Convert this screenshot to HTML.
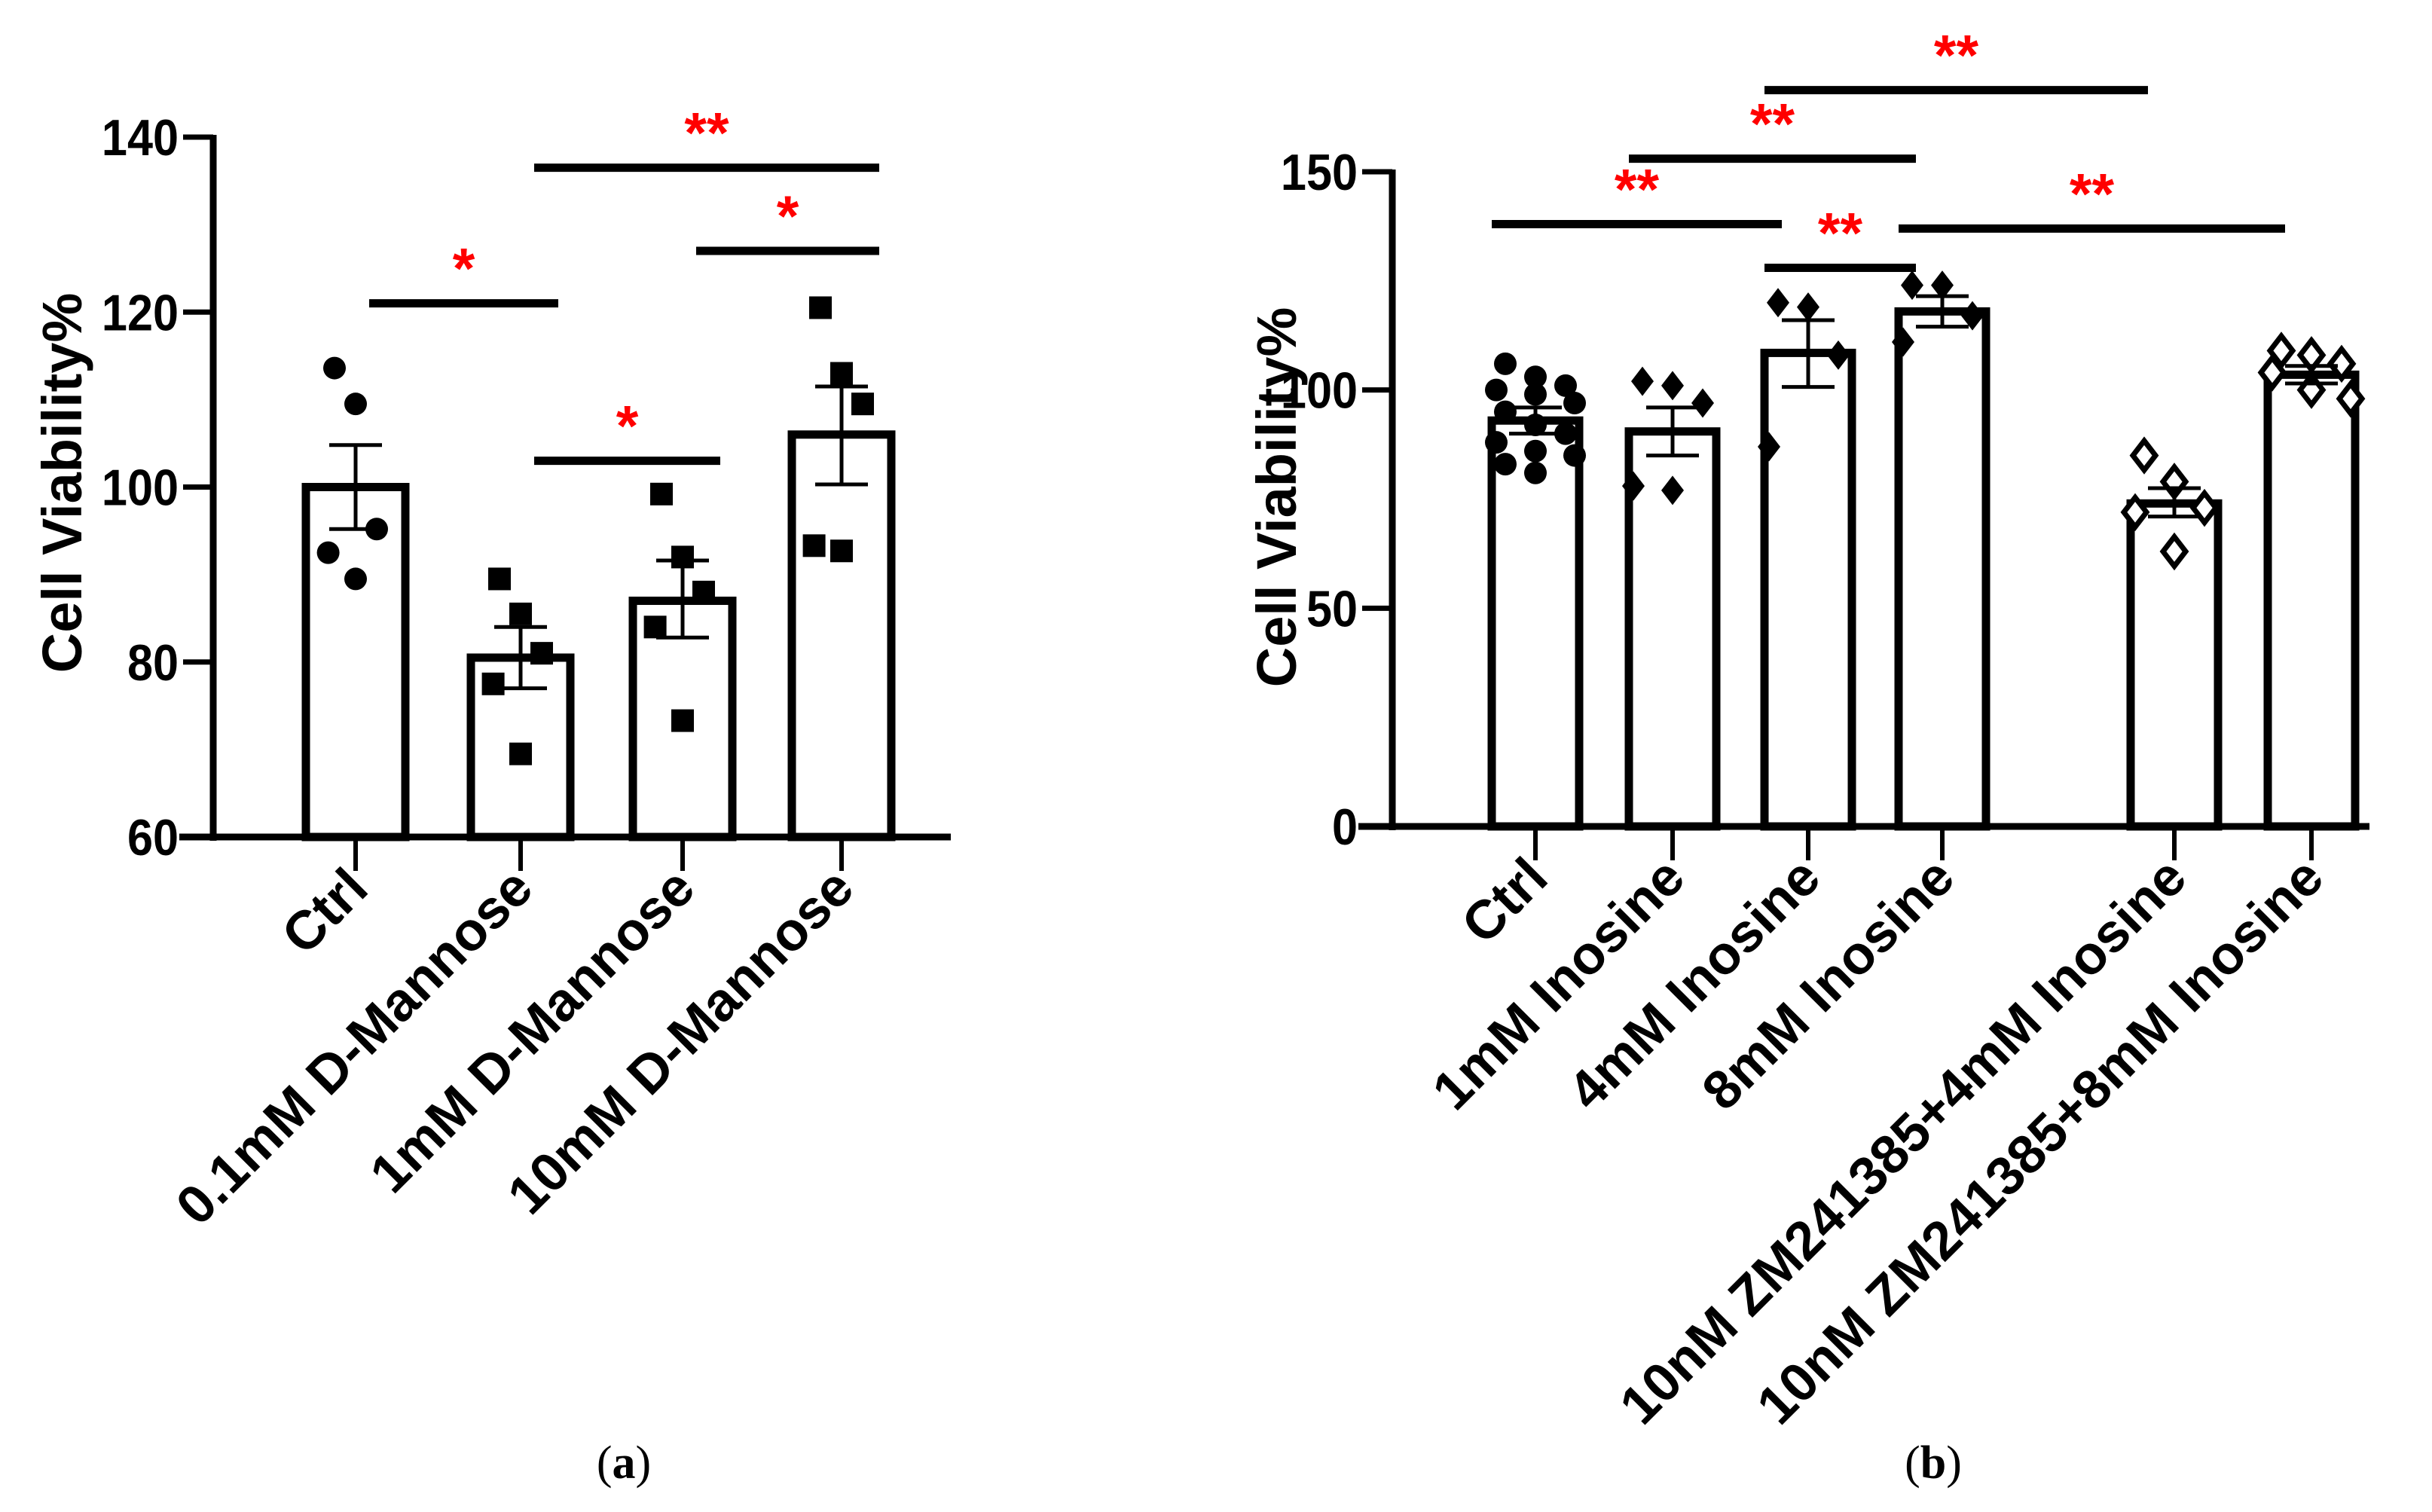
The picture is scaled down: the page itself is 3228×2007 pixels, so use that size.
<!DOCTYPE html>
<html><head><meta charset="utf-8"><style>
html,body{margin:0;padding:0;background:#fff;}
svg{display:block;font-family:"Liberation Sans",Arial,sans-serif;}
</style></head><body>
<svg id="fig" width="3228" height="2007" viewBox="0 0 3228 2007" xmlns="http://www.w3.org/2000/svg">
<g id="ga"></g>
<g id="gb"></g>
<text x="828" y="1962" font-family="Liberation Serif, serif" font-size="62" text-anchor="middle">(<tspan font-weight="bold">a</tspan>)</text>
<text x="2566" y="1962" font-family="Liberation Serif, serif" font-size="62" text-anchor="middle">(<tspan font-weight="bold">b</tspan>)</text>
</svg>
<script>
// Panel A data
const catsA = ["Ctrl","0.1mM D-Mannose","1mM D-Mannose","10mM D-Mannose"];
const meansA = [100, 80.5, 87, 106];
const errHiA = [104.8, 84, 91.6, 111.5];
const errLoA = [95.2, 77, 82.8, 100.3];
const ptsA = [[113.6,109.5,95.2,92.5,89.5],[89.5,85.5,81,77.5,69.5],[99.2,92,88,84,73.3],[120.5,113,109.5,93.3,92.7]];
const ticksA = [60,80,100,120,140];
const sigA = [[0,1,121,"*"],[1,2,103,"*"],[1,3,136.5,"**"],[2,3,127,"*"]];
// Panel B data
const catsB = ["Ctrl","1mM Inosine","4mM Inosine","8mM Inosine","10nM ZM241385+4mM Inosine","10nM ZM241385+8mM Inosine"];
const meansB = [93, 90.5, 108.5, 118, 74, 103.5];
const errHiB = [96, 96, 116, 121.5, 77.5, 105.5];
const errLoB = [90, 85, 100.7, 114.5, 71, 101.5];
const ptsB = [[106,103,101,100,99,97,95,92,90,88,86,85,83,81],[102,101,97,78,77],[120,119,108,87],[124,124,117,111],[85,79,73,72,63],[109,108,106,104,100,98]];
const ticksB = [0,50,100,150];
const sigB = [[0,2,138,"**"],[1,3,153,"**"],[2,4,168.7,"**"],[2,3,128,"**"],[3,5,137,"**"]];

const NS="http://www.w3.org/2000/svg";
function mk(p,tag,at){const e=document.createElementNS(NS,tag);for(const k in at)e.setAttribute(k,at[k]);p.appendChild(e);return e;}

function panel(g,cfg){
  const y=v=>cfg.y0+(v-cfg.vmin)*(cfg.y1-cfg.y0)/(cfg.vmax-cfg.vmin);
  const x=i=>cfg.xs[i];
  let ax=mk(g,'line',{x1:cfg.ax,y1:y(cfg.vmax)-3,x2:cfg.ax,y2:cfg.y0+5,stroke:'#000','stroke-width':9});
  
  let xa=mk(g,'line',{x1:cfg.ax-45,y1:cfg.y0,x2:cfg.axEnd,y2:cfg.y0,stroke:'#000','stroke-width':9});
  
  cfg.ticks.forEach(t=>{
    if(t!==cfg.vmin){let l=mk(g,'line',{x1:cfg.ax-40,y1:y(t),x2:cfg.ax,y2:y(t),stroke:'#000','stroke-width':7});
    }
    let tx=mk(g,'text',{x:0,y:0,transform:`translate(${cfg.ax-46},${y(t)+24}) scale(0.9,1)`,'text-anchor':'end','font-size':68,'font-weight':'bold'});
    tx.textContent=t;
    
  });
  let yt=mk(g,'text',{x:0,y:0,transform:`translate(${cfg.titleX},${cfg.titleY}) rotate(-90)`,'text-anchor':'middle','font-size':74,'font-weight':'bold'});
  yt.textContent='Cell Viability%';
  
  cfg.cats.forEach((c,i)=>{
    const cx=x(i),w=cfg.bw;
    let b=mk(g,'rect',{x:cx-w/2,y:y(cfg.means[i]),width:w,height:cfg.y0-y(cfg.means[i]),fill:'#fff',stroke:'#000','stroke-width':11});
    
    let tk=mk(g,'line',{x1:cx,y1:cfg.y0,x2:cx,y2:cfg.y0+45,stroke:'#000','stroke-width':6});
    
    const pts=cfg.pts[i],n=pts.length;
    pts.forEach((v,j)=>{
      const off=(n<=1?0:((j%3)-1))*cfg.jit*(1+ (j%2)*0.3);
      const px=cx+off,py=y(v),s=cfg.ms;
      let m;
      if(cfg.shape[i]==='c')m=mk(g,'circle',{cx:px,cy:py,r:s/2,fill:'#000'});
      else if(cfg.shape[i]==='s')m=mk(g,'rect',{x:px-s/2,y:py-s/2,width:s,height:s,fill:'#000'});
      else m=mk(g,'polygon',{points:`${px},${py-s*0.65} ${px+s/2},${py} ${px},${py+s*0.65} ${px-s/2},${py}`,fill:cfg.shape[i]==='o'?'#fff':'#000',stroke:'#000','stroke-width':cfg.shape[i]==='o'?7:0});
      
    });
    let e=mk(g,'path',{d:`M${cx},${y(cfg.errHi[i])}V${y(cfg.errLo[i])}M${cx-35},${y(cfg.errHi[i])}H${cx+35}M${cx-35},${y(cfg.errLo[i])}H${cx+35}`,stroke:'#000','stroke-width':5,fill:'none'});
    
    let lb=mk(g,'text',{x:0,y:0,transform:`translate(${cx+20},${cfg.y0+72}) rotate(-45)`,'text-anchor':'end','font-size':72,'font-weight':'bold'});
    lb.textContent=c;
    
  });
  cfg.sig.forEach(s=>{
    const x1=x(s[0])+cfg.sigPad, x2=x(s[1])+cfg.sigPad2, yy=y(s[2]);
    let l=mk(g,'line',{x1:x1,y1:yy,x2:x2,y2:yy,stroke:'#000','stroke-width':11});
    
    let t=mk(g,'text',{x:(x1+x2)/2,y:yy-20,'text-anchor':'middle','font-size':76,'font-weight':'bold',fill:'#f00'});
    t.textContent=s[3];
    
  });
}
panel(document.getElementById('ga'),{vmin:60,vmax:140,y0:1111,y1:182,ax:283,axEnd:1262,xs:[472,691,906,1117],bw:132,
  cats:catsA,means:meansA,errHi:errHiA,errLo:errLoA,pts:ptsA,ticks:ticksA,sig:sigA,shape:['c','s','s','s'],ms:30,jit:28,
  titleX:108,titleY:641,sigPad:18,sigPad2:50});
panel(document.getElementById('gb'),{vmin:0,vmax:150,y0:1097,y1:228,ax:1848,axEnd:3145,xs:[2038,2220,2400,2578,2886,3068],bw:116,
  cats:catsB,means:meansB,errHi:errHiB,errLo:errLoB,pts:ptsB,ticks:ticksB,sig:sigB,shape:['c','d','d','d','o','o'],ms:30,jit:40,
  titleX:1720,titleY:660,sigPad:-58,sigPad2:-35});
</script>
</body></html>
